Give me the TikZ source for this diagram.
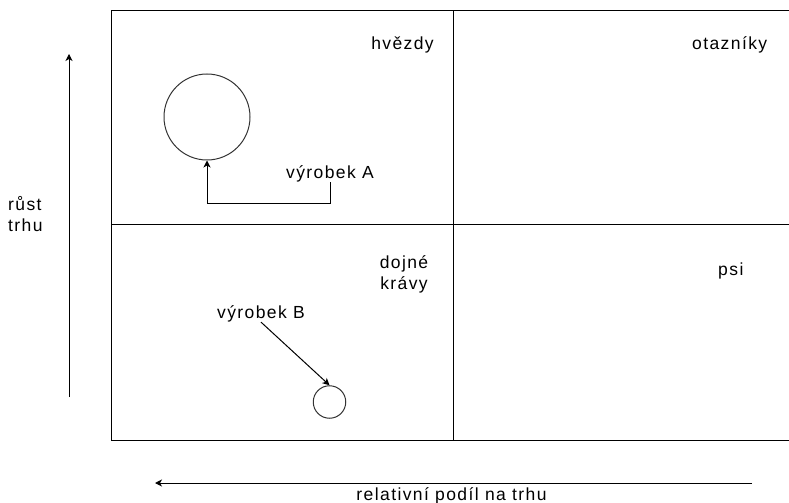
\documentclass[tikz,border=0pt]{standalone}
\usepackage{fontspec}
\setmainfont{Liberation Sans}[LetterSpace=8]
\usetikzlibrary{arrows.meta}

\tikzset{
  frame/.style={draw=black, line width=1bp},
  bubble/.style={circle, draw=black!80, line width=1bp, inner sep=0pt},
  lbl/.style={inner sep=0pt, font=\fontsize{17.5bp}{21bp}\selectfont, text=black},
  link/.style={draw=black, line width=1bp, -{Stealth[length=7bp,width=7bp,inset=2bp]}},
}

\begin{document}
\begin{tikzpicture}[x=1bp, y=-1bp]
  \useasboundingbox (0,0) rectangle (789,503);

  % portfolio matrix: outer frame and the two dividers
  \draw[frame] (111,10.5) rectangle (789.6,440);
  \draw[frame] (453,10.5) -- (453,440);
  \draw[frame] (111,225) -- (789.6,225);

  % quadrant names
  \node[lbl, anchor=base] (stars)  at (402.5,49.5) {hvězdy};
  \node[lbl, anchor=base] (quest)  at (729.7,49.5) {otazníky};
  \node[lbl, anchor=base, align=center] (cows) at (404,289.3) {dojné\\krávy};
  \node[lbl, anchor=base] (dogs)   at (730.8,276) {psi};

  % products
  \node[bubble, minimum size=86bp] (prodA) at (207,117) {};
  \node[bubble, minimum size=32.5bp] (prodB) at (329.5,402) {};

  \node[lbl, anchor=base] (labA) at (330,178.3) {výrobek A};
  \node[lbl, anchor=base] (labB) at (261,318.3) {výrobek B};

  \coordinate (elbowA) at (330,204);
  \draw[link] (labA.south) -- (elbowA) -| (prodA.south);
  \draw[link] (labB.south) -- (prodB.north);

  % axes
  \coordinate (growthLow)  at (69,397);
  \coordinate (growthHigh) at (69,54);
  \draw[link] (growthLow) -- (growthHigh);
  \node[lbl, anchor=base west, align=left] (growth) at (8,232) {růst\\trhu};

  \coordinate (shareLow)  at (752,483);
  \coordinate (shareHigh) at (155,483);
  \draw[link] (shareLow) -- (shareHigh);
  \node[lbl, anchor=base] (share) at (451.5,500) {relativní podíl na trhu};
\end{tikzpicture}
\end{document}
